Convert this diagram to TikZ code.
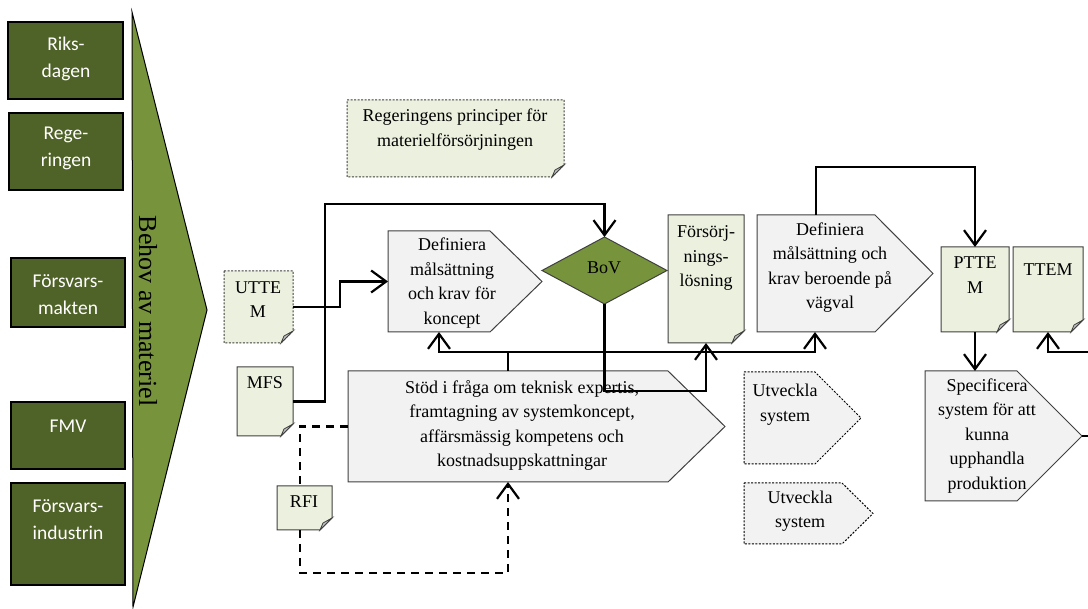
\documentclass[tikz,border=0pt]{standalone}
\usepackage{fontspec}
\setmainfont{Liberation Serif}
\newfontfamily\boxfont{Carlito}
\usetikzlibrary{arrows.meta}

\definecolor{orgdark}{HTML}{4F6228}
\definecolor{olive}{HTML}{77933C}
\definecolor{docgreen}{HTML}{EBF1DE}
\definecolor{stepgray}{HTML}{F2F2F2}
\definecolor{edgegray}{HTML}{404040}
\definecolor{foldgray}{HTML}{BFBFBF}

\tikzset{
  geom/.style={inner sep=0pt, outer sep=0pt},
  lbl/.style={font=\fontsize{18}{24.5}\selectfont, align=center, inner sep=0pt},
  orglbl/.style={font=\boxfont\fontsize{19.5}{27}\selectfont, text=white, align=center, inner sep=0pt},
  orgbox/.style={draw=black, line width=2pt, fill=orgdark},
  docsolid/.style={fill=docgreen, draw=edgegray, line width=1pt},
  docdotted/.style={fill=docgreen, draw=edgegray, line width=1pt, dash pattern=on 2pt off 1.5pt},
  stepsolid/.style={fill=stepgray, draw=edgegray, line width=1pt},
  stepdotted/.style={fill=stepgray, draw=black, line width=1pt, dash pattern=on 2pt off 1.5pt},
  flap/.style={fill=foldgray, draw=edgegray, line width=0.8pt, solid},
  conn/.style={draw=black, line width=2.2pt},
  barb/.style={-{Straight Barb[length=15pt,width=22pt]}},
  flowarrow/.style={conn, barb},
  dashconn/.style={conn, dash pattern=on 8pt off 6pt},
}

% an invisible frame node spanning (x1,y1)-(x2,y2)
\newcommand\region[6][]{%
  \node[geom, #1, minimum width={(#5-#3)*1pt}, minimum height={(#6-#4)*1pt}]
    (#2) at ({(#3+#5)/2},{(#4+#6)/2}) {};}
% document outline with a folded lower right corner
\newcommand\docpath[2]{%
  \path[#2] (#1.north west) -- (#1.north east) -- ([yshift=12pt]#1.south east)
    -- ([xshift=-12pt]#1.south east) -- (#1.south west) -- cycle;
  \path[flap] ([yshift=12pt]#1.south east) -- ([xshift=-12pt]#1.south east)
    .. controls ([xshift=-11pt,yshift=4pt]#1.south east) .. ([xshift=-9pt,yshift=7pt]#1.south east) -- cycle;}
% process step pointing right, tip of the given width
\newcommand\steppath[3]{%
  \path[#3] (#1.north west) -- ([xshift=-#2pt]#1.north east) -- (#1.east)
    -- ([xshift=-#2pt]#1.south east) -- (#1.south west) -- cycle;}

\begin{document}
\begin{tikzpicture}[x=1pt,y=-1pt]
\useasboundingbox (0,0) rectangle (1088,609);
\fill[white] (0,0) rectangle (1088,609);

% actors
\region[orgbox]{riks}{8}{22}{123}{99}
\region[orgbox]{rege}{9}{113}{123}{190}
\region[orgbox]{fm}{11}{258}{125}{327}
\region[orgbox]{fmv}{11}{402}{125}{469}
\region[orgbox]{ind}{11}{483}{125}{585}
\node[orglbl] (riks-t) at (66,58.5) {Riks-\\dagen};
\node[orglbl] (rege-t) at (66,148.5) {Rege-\\ringen};
\node[orglbl] (fm-t) at (68,295) {Försvars-\\makten};
\node[orglbl] (fmv-t) at (68,426) {FMV};
\node[orglbl] (ind-t) at (68,520) {Försvars-\\industrin};

% need arrow
\path[fill=olive, draw=black, line width=1pt] (132,12) -- (207,310) -- (133,607) -- cycle;
\node[font=\fontsize{26}{30}\selectfont, rotate=-90, inner sep=0pt] (behov) at (148,311) {Behov av materiel};

% frames
\region{reg}{347}{100}{564}{177}
\region{utm}{224}{271}{293}{343}
\region{mfs}{237}{367}{293}{436}
\region{rfi}{277}{486}{332}{530}
\region{fors}{668}{215}{744}{343}
\region{pttem}{941}{247}{1009}{332}
\region{ttem}{1013}{247}{1083}{332}
\region{def1}{388}{231}{542}{332}
\region{stod}{348}{371}{725}{482}
\region{def2}{757}{215}{933}{332}
\region{spec}{925}{371}{1082}{501}
\region{utv1}{744}{372}{861}{464}
\region{utv2}{744}{483}{873}{544}
\region{bov}{542}{237}{667}{304}

% documents
\docpath{reg}{docdotted}
\docpath{utm}{docdotted}
\docpath{mfs}{docsolid}
\docpath{rfi}{docsolid}
\docpath{fors}{docsolid}
\docpath{pttem}{docsolid}
\docpath{ttem}{docsolid}

% process steps
\steppath{def1}{52}{stepsolid}
\steppath{stod}{57}{stepsolid}
\steppath{def2}{58}{stepsolid}
\steppath{spec}{65}{stepsolid}
\steppath{utv1}{46}{stepdotted}
\steppath{utv2}{31}{stepdotted}

% decision
\path[fill=olive, draw=edgegray, line width=1pt] (bov.west) -- (bov.north) -- (bov.east) -- (bov.south) -- cycle;

% labels
\node[lbl] (reg-t) at (455,129.5) {Regeringens principer för\\materielförsörjningen};
\node[lbl] (utm-t) at (258,299.5) {UTTE\\M};
\node[lbl] (mfs-t) at (265,383) {MFS};
\node[lbl] (rfi-t) at (304,502) {RFI};
\node[lbl] (fors-t) at (706,258) {Försörj-\\nings-\\lösning};
\node[lbl] (pttem-t) at (975,275) {PTTE\\M};
\node[lbl] (ttem-t) at (1048,270) {TTEM};
\node[lbl] (def1-t) at (452,283) {Definiera\\målsättning\\och krav för\\koncept};
\node[lbl] (stod-t) at (522,425.5) {Stöd i fråga om teknisk expertis,\\framtagning av systemkoncept,\\affärsmässig kompetens och\\kostnadsuppskattningar};
\node[lbl] (def2-t) at (830,267.5) {Definiera\\målsättning och\\krav beroende på\\vägval};
\node[lbl] (spec-t) at (987,436) {Specificera\\system för att\\kunna\\upphandla\\produktion};
\node[lbl] (utv1-t) at (785,404.5) {Utveckla\\system};
\node[lbl] (utv2-t) at (800,511) {Utveckla\\system};
\node[lbl] (bov-t) at (604,268) {BoV};

% connectors
\coordinate (utmbend) at (340,281.5);
\coordinate (mfsbend) at (325,204);
\coordinate (bus) at (508,352);
\coordinate (ttemfeed) at (1088,352);
\coordinate (specout) at (1088,436);

\draw[flowarrow] (utm.east) -| (utmbend) -- (def1.west);
\draw[flowarrow] (mfs.east) -| (mfsbend) -| (bov.north);
\draw[conn] (stod.north -| bus) -- (bus);
\draw[flowarrow] (bus) -| ([xshift=-26pt]def1.south);
\draw[flowarrow] (bus) -| ([xshift=-30pt]def2.south);
\draw[flowarrow] (bov.south) -- ++(0,87) -| (fors.south);
\draw[flowarrow] ([xshift=-29pt]def2.north) -- ++(0,-48) -| (pttem.north);
\draw[flowarrow] (pttem.south) -- (pttem.south |- spec.north);
\draw[flowarrow] (ttemfeed) -| (ttem.south);
\draw[conn] (spec.east) -- (specout);

\draw[dashconn] (stod.west) -| ([xshift=-4.5pt]rfi.north);
\draw[dashconn, barb] ([xshift=-4.5pt]rfi.south) -- ++(0,43) -| ([xshift=-28.5pt]stod.south);
\end{tikzpicture}
\end{document}
